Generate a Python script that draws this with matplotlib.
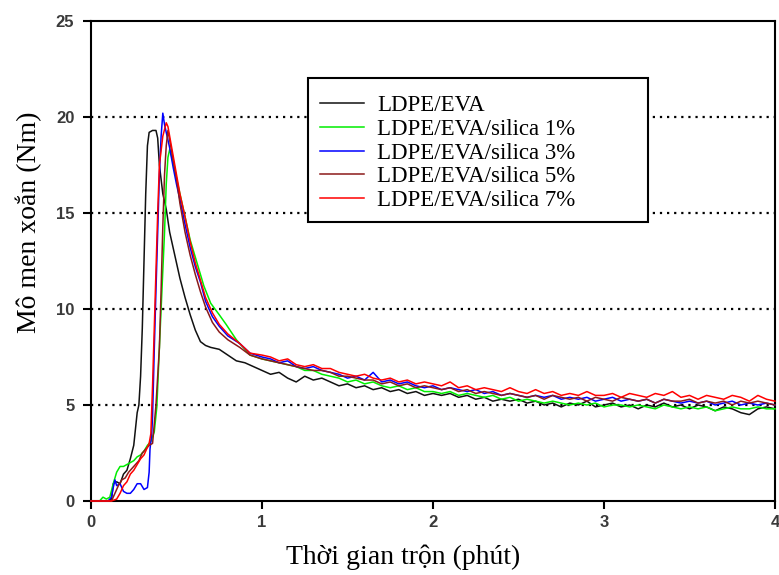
import numpy as np
import matplotlib
matplotlib.use("Agg")
import matplotlib.pyplot as plt
from matplotlib.patches import Rectangle

# sample grid for the slow decay part (1.0 - 4.0 min)
tail_t = np.round(np.arange(1.0, 4.001, 0.05), 2)

# LDPE/EVA
black_t = [0, 0.05, 0.10, 0.12, 0.13, 0.15, 0.17, 0.19, 0.21, 0.23, 0.25, 0.27, 0.28, 0.29,
           0.30, 0.31, 0.32, 0.33, 0.34, 0.36, 0.38, 0.39, 0.40, 0.42, 0.44, 0.46, 0.48,
           0.50, 0.52, 0.55, 0.58, 0.61, 0.64, 0.67, 0.70, 0.75, 0.80, 0.85, 0.90, 0.95]
black_y = [0, 0, 0, 0.1, 0.9, 1.0, 0.9, 1.4, 1.6, 2.2, 2.9, 4.6, 5.0, 6.5,
           9.0, 12.5, 16.0, 18.5, 19.2, 19.3, 19.3, 18.9, 17.5, 16.0, 15.2, 14.0, 13.2,
           12.4, 11.6, 10.6, 9.7, 8.9, 8.3, 8.1, 8.0, 7.9, 7.6, 7.3, 7.2, 7.0]
black_tail = [6.8, 6.6, 6.7, 6.4, 6.2, 6.5, 6.3, 6.4, 6.2, 6.0,
              6.1, 5.9, 6.0, 5.8, 5.9, 5.7, 5.8, 5.6, 5.7, 5.5,
              5.6, 5.5, 5.6, 5.4, 5.5, 5.3, 5.4, 5.2, 5.3, 5.2,
              5.3, 5.1, 5.2, 5.0, 5.1, 4.9, 5.1, 5.0, 5.2, 4.9,
              5.0, 5.1, 4.9, 5.0, 4.8, 5.0, 4.9, 5.1, 4.9, 5.0,
              4.8, 5.0, 4.9, 4.7, 4.9, 4.8, 4.6, 4.5, 4.8, 4.9,
              4.8]

# LDPE/EVA/silica 1%
green_t = [0, 0.05, 0.07, 0.09, 0.11, 0.13, 0.15, 0.17, 0.19, 0.21, 0.23, 0.25, 0.27, 0.29,
           0.31, 0.33, 0.35, 0.37, 0.385, 0.40, 0.42, 0.43, 0.44, 0.45, 0.46, 0.47, 0.49,
           0.52, 0.55, 0.58, 0.62, 0.66, 0.70, 0.75, 0.79, 0.85, 0.93]
green_y = [0, 0, 0.2, 0.1, 0.2, 0.9, 1.5, 1.8, 1.8, 1.9, 2.0, 2.1, 2.3, 2.4,
           2.6, 2.9, 3.1, 3.6, 4.9, 8.0, 12.0, 14.0, 16.5, 17.9, 18.3, 18.0, 17.2,
           16.0, 14.8, 13.6, 12.4, 11.2, 10.3, 9.7, 9.2, 8.4, 7.6]
green_tail = [7.4, 7.3, 7.2, 7.1, 7.0, 6.8, 6.8, 6.6, 6.5, 6.4,
              6.2, 6.3, 6.1, 6.2, 6.0, 5.9, 6.0, 5.8, 5.9, 5.7,
              5.7, 5.6, 5.7, 5.5, 5.6, 5.5, 5.4, 5.5, 5.3, 5.4,
              5.2, 5.3, 5.2, 5.1, 5.2, 5.1, 5.0, 5.1, 5.0, 5.1,
              4.9, 5.0, 5.0, 4.9, 5.0, 4.9, 4.8, 5.0, 4.9, 4.8,
              4.9, 4.8, 4.9, 4.7, 4.8, 4.9, 4.8, 4.8, 4.9, 4.8,
              4.8]

# LDPE/EVA/silica 3%
blue_t = [0, 0.10, 0.12, 0.13, 0.14, 0.15, 0.17, 0.19, 0.21, 0.23, 0.25, 0.27, 0.29, 0.31,
          0.33, 0.34, 0.345, 0.355, 0.36, 0.37, 0.38, 0.39, 0.40, 0.41, 0.42, 0.43, 0.44,
          0.46, 0.48, 0.50, 0.52, 0.55, 0.58, 0.61, 0.64, 0.67, 0.71, 0.75, 0.80, 0.87, 0.93]
blue_y = [0, 0, 0.2, 0.7, 1.1, 0.8, 0.9, 0.5, 0.4, 0.4, 0.6, 0.9, 0.9, 0.6,
          0.7, 1.5, 2.7, 3.5, 4.4, 7.9, 11.0, 14.0, 17.0, 19.0, 20.2, 19.6, 19.2,
          18.4, 17.4, 16.5, 15.7, 14.4, 13.2, 12.2, 11.4, 10.4, 9.6, 9.1, 8.6, 8.2, 7.7]
blue_tail = [7.5, 7.4, 7.2, 7.3, 7.0, 6.9, 7.0, 6.8, 6.7, 6.6,
             6.4, 6.5, 6.3, 6.7, 6.2, 6.3, 6.1, 6.2, 6.0, 5.9,
             6.0, 5.8, 5.9, 5.8, 5.7, 5.8, 5.6, 5.7, 5.5, 5.6,
             5.5, 5.4, 5.5, 5.4, 5.5, 5.3, 5.4, 5.3, 5.4, 5.2,
             5.3, 5.4, 5.2, 5.3, 5.2, 5.3, 5.1, 5.3, 5.2, 5.1,
             5.2, 5.1, 5.2, 5.0, 5.1, 5.2, 5.0, 5.1, 5.0, 5.1,
             5.0]

# LDPE/EVA/silica 5%
brown_t = [0, 0.12, 0.14, 0.16, 0.18, 0.20, 0.22, 0.24, 0.26, 0.28, 0.30, 0.32, 0.34, 0.36,
           0.38, 0.39, 0.40, 0.41, 0.42, 0.43, 0.44, 0.45, 0.46, 0.48, 0.50, 0.52, 0.55,
           0.58, 0.61, 0.64, 0.67, 0.71, 0.75, 0.80, 0.87, 0.93]
brown_y = [0, 0, 0.4, 0.8, 1.1, 1.2, 1.5, 1.7, 1.9, 2.1, 2.5, 2.7, 2.9, 3.0,
           5.0, 6.5, 8.0, 11.0, 14.3, 17.0, 18.5, 19.3, 18.8, 17.8, 16.8, 15.5, 14.0,
           12.8, 11.8, 10.9, 10.1, 9.3, 8.8, 8.4, 8.0, 7.6]
brown_tail = [7.4, 7.3, 7.2, 7.1, 7.0, 6.9, 6.8, 6.8, 6.7, 6.5,
              6.5, 6.4, 6.3, 6.3, 6.1, 6.2, 6.0, 6.1, 5.9, 6.0,
              5.9, 5.8, 5.9, 5.7, 5.8, 5.6, 5.7, 5.6, 5.5, 5.6,
              5.5, 5.4, 5.5, 5.3, 5.5, 5.4, 5.3, 5.4, 5.2, 5.4,
              5.3, 5.2, 5.4, 5.3, 5.2, 5.3, 5.1, 5.3, 5.2, 5.2,
              5.3, 5.1, 5.2, 5.1, 5.2, 5.0, 5.2, 5.1, 5.2, 5.1,
              5.0]

# LDPE/EVA/silica 7%
red_t = [0, 0.12, 0.15, 0.17, 0.19, 0.21, 0.23, 0.25, 0.27, 0.29, 0.31, 0.33, 0.34, 0.35,
         0.36, 0.37, 0.38, 0.39, 0.40, 0.42, 0.44, 0.45, 0.47, 0.50, 0.52, 0.55, 0.58,
         0.61, 0.64, 0.67, 0.71, 0.75, 0.80, 0.87, 0.93]
red_y = [0, 0, 0.1, 0.4, 0.8, 1.0, 1.4, 1.6, 1.9, 2.2, 2.4, 2.8, 3.0, 3.5,
         6.0, 9.0, 12.0, 15.0, 17.5, 19.0, 19.7, 19.5, 18.5, 17.0, 16.0, 14.8, 13.5,
         12.4, 11.5, 10.6, 9.8, 9.2, 8.7, 8.2, 7.7]
red_tail = [7.6, 7.5, 7.3, 7.4, 7.1, 7.0, 7.1, 6.9, 6.9, 6.7,
            6.6, 6.5, 6.6, 6.4, 6.3, 6.4, 6.2, 6.3, 6.1, 6.2,
            6.1, 6.0, 6.2, 5.9, 6.0, 5.8, 5.9, 5.8, 5.7, 5.9,
            5.7, 5.6, 5.8, 5.6, 5.7, 5.5, 5.6, 5.5, 5.7, 5.5,
            5.5, 5.6, 5.4, 5.6, 5.5, 5.4, 5.6, 5.5, 5.7, 5.4,
            5.5, 5.3, 5.5, 5.4, 5.3, 5.5, 5.4, 5.2, 5.5, 5.3,
            5.2]

labels = ['LDPE/EVA', 'LDPE/EVA/silica 1%', 'LDPE/EVA/silica 3%',
          'LDPE/EVA/silica 5%', 'LDPE/EVA/silica 7%']
colors = ['#111111', '#00ee00', '#0000ff', '#8b1a1a', '#ff0000']

series = [(black_t, black_y, black_tail), (green_t, green_y, green_tail),
          (blue_t, blue_y, blue_tail), (brown_t, brown_y, brown_tail),
          (red_t, red_y, red_tail)]

serif = ['Liberation Serif', 'DejaVu Serif']

fig = plt.figure(figsize=(7.79, 5.75), dpi=100)
ax = fig.add_axes([91/779, 74/575, 684/779, 480/575])

for (t, y, tail), c, lab in zip(series, colors, labels):
    x = np.concatenate([t, tail_t])
    v = np.concatenate([y, tail])
    ax.plot(x, v, color=c, lw=1.1, label=lab, clip_on=False, zorder=3)

# dotted horizontal grid
for g in [5, 10, 15, 20]:
    ax.axhline(g, color='black', lw=1.6, linestyle=(0, (1, 2.2)), zorder=1)

ax.set_xlim(0, 4)
ax.set_ylim(0, 25)
ax.set_xticks([0, 1, 2, 3, 4])
ax.set_yticks([0, 5, 10, 15, 20, 25])
for s in ax.spines.values():
    s.set_linewidth(1.5)
ax.tick_params(direction='out', length=6, width=1.5, pad=6,
               labelsize=12, labelcolor='#3a3a3a')
ax.tick_params(axis='x', pad=4)
for lb in ax.get_xticklabels() + ax.get_yticklabels():
    lb.set_family('Liberation Sans')
    lb.set_fontweight('bold')

ax.set_xlabel('Thời gian trộn (phút)', family=serif, fontsize=20)
ax.set_ylabel('Mô men xoắn (Nm)', family=serif, fontsize=20)
ax.xaxis.set_label_coords(0.457, -0.09)
ax.yaxis.set_label_coords(-0.072, 0.58)

# legend box
ax.add_patch(Rectangle((0.317, 0.581), 0.497, 0.3, transform=ax.transAxes,
                       fill=True, facecolor='white', edgecolor='black', lw=1.5, zorder=4))
leg = ax.legend(loc='upper left', bbox_to_anchor=(0.335, 0.846), frameon=False,
                prop={'family': serif, 'size': 16.5}, borderpad=0, borderaxespad=0,
                handlelength=1.9, handletextpad=0.6, labelspacing=0.12)
leg.set_zorder(5)

fig.savefig('out.png', dpi=100)
